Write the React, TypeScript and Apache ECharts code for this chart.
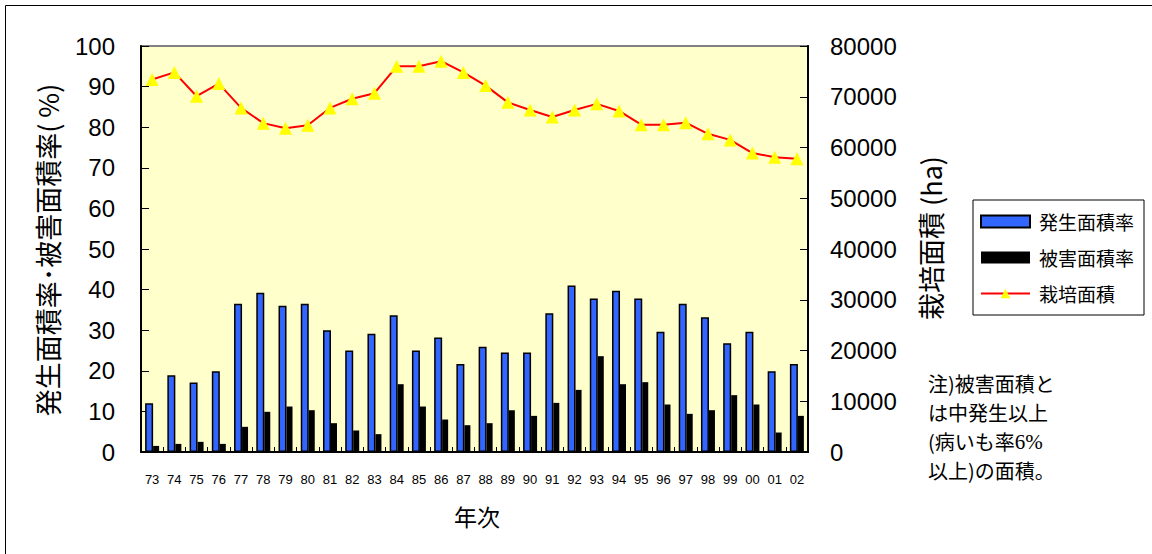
import React, { useEffect, useRef } from "react";
import * as echarts from "echarts";

const years = ["73","74","75","76","77","78","79","80","81","82","83","84","85","86","87","88","89","90","91","92","93","94","95","96","97","98","99","00","01","02"];
const occurrenceRate = [12.0,18.9,17.1,19.9,36.5,39.2,36.0,36.5,30.0,25.0,29.1,33.7,25.0,28.2,21.7,25.9,24.5,24.5,34.2,41.0,37.8,39.7,37.8,29.6,36.5,33.2,26.8,29.6,19.9,21.7];
const damageRate = [1.5,2.0,2.5,2.0,6.2,9.9,11.2,10.3,7.1,5.3,4.4,16.7,11.2,8.0,6.6,7.1,10.3,8.9,12.1,15.3,23.6,16.7,17.2,11.7,9.4,10.3,14.0,11.7,4.8,8.9];
const cultivatedArea = [73400,74800,70100,72600,67800,64800,63800,64400,67800,69600,70700,76000,76000,77000,74800,72200,68900,67400,66000,67400,68600,67200,64500,64500,64900,62700,61500,58900,58100,57800];

const seriesNames = ["発生面積率", "被害面積率", "栽培面積"];
const leftAxisTitle = "発生面積率･被害面積率( %)";
const rightAxisTitle = "栽培面積 (ha)";
const xAxisTitle = "年次";
const noteText = "注)被害面積と\nは中発生以上\n(病いも率{s|6%}\n以上)の面積。";

const SANS = "'Liberation Sans', Arial, sans-serif";
const CJK = "'Noto Sans CJK JP', 'Liberation Sans', sans-serif";

export default function App() {
  const ref = useRef<HTMLDivElement>(null);
  useEffect(() => {
    if (!ref.current) return;
    const chart = echarts.init(ref.current, undefined, { renderer: "svg" });
    const gl = 141, gt = 46, gw = 667, gh = 406;
    chart.setOption({
      animation: false,
      backgroundColor: "#ffffff",
      grid: {
        left: gl, top: gt, width: gw, height: gh,
        show: true, backgroundColor: "#FFFFCC", borderColor: "#808080", borderWidth: 2,
      },
      legend: {
        orient: "vertical",
        left: 973, top: 200,
        width: 172,
        padding: [12, 10, 12, 7],
        itemWidth: 49, itemHeight: 12, itemGap: 17,
        borderColor: "#000", borderWidth: 1,
        backgroundColor: "#fff",
        textStyle: { fontFamily: CJK, fontSize: 19, color: "#000", padding: [0, 0, 0, 4] },
        data: [
          { name: seriesNames[0], icon: "rect" },
          { name: seriesNames[1], icon: "rect" },
          { name: seriesNames[2] },
        ],
      },
      xAxis: {
        type: "category",
        data: years,
        boundaryGap: true,
        axisLine: { show: true, lineStyle: { color: "#000", width: 2 } },
        axisTick: { show: true, inside: true, length: 5, interval: 0, lineStyle: { color: "#000" } },
        axisLabel: { interval: 0, fontSize: 13, fontFamily: SANS, color: "#000", margin: 21 },
        splitLine: { show: false },
      },
      yAxis: [
        {
          type: "value", min: 0, max: 100, interval: 10, position: "left",
          axisLine: { show: true, lineStyle: { color: "#000", width: 2 } },
          axisTick: { show: true, inside: true, length: 8, lineStyle: { color: "#000" } },
          axisLabel: { fontSize: 24, fontFamily: SANS, color: "#000", margin: 26 },
          splitLine: { show: false },
        },
        {
          type: "value", min: 0, max: 80000, interval: 10000, position: "right",
          axisLine: { show: true, lineStyle: { color: "#000", width: 2 } },
          axisTick: { show: true, inside: true, length: 8, lineStyle: { color: "#000" } },
          axisLabel: { fontSize: 24, fontFamily: SANS, color: "#000", margin: 22, formatter: (v: number) => String(v) },
          splitLine: { show: false },
        },
      ],
      series: [
        {
          name: seriesNames[0], type: "bar", yAxisIndex: 0, data: occurrenceRate,
          barWidth: 8, barGap: "0%",
          itemStyle: { color: "#3366FF", borderColor: "#000", borderWidth: 1.5 },
        },
        {
          name: seriesNames[1], type: "bar", yAxisIndex: 0, data: damageRate,
          barWidth: 6, barGap: "0%",
          itemStyle: { color: "#000000", borderColor: "#000", borderWidth: 0 },
        },
        {
          name: seriesNames[2], type: "line", yAxisIndex: 1, data: cultivatedArea,
          symbol: "triangle", symbolSize: 13,
          lineStyle: { color: "#FF0000", width: 2 },
          itemStyle: { color: "#FFFF00" },
        },
      ],
      graphic: [
        {
          type: "rect", silent: true, z: -10,
          shape: { x: 5.5, y: 5.5, width: 1200, height: 700 },
          style: { fill: "none", stroke: "#000", lineWidth: 1 },
        },
        {
          type: "text", x: 47, y: 250, rotation: Math.PI / 2,
          style: { text: leftAxisTitle, fontFamily: CJK, fontSize: 27, fill: "#000", align: "center", verticalAlign: "middle" },
        },
        {
          type: "text", x: 930, y: 238, rotation: Math.PI / 2,
          style: { text: rightAxisTitle, fontFamily: CJK, fontSize: 27, fill: "#000", align: "center", verticalAlign: "middle" },
        },
        {
          type: "text", x: 477, y: 516,
          style: { text: xAxisTitle, fontFamily: CJK, fontSize: 23, fill: "#000", align: "center", verticalAlign: "middle" },
        },
        {
          type: "text", left: 928, top: 369,
          style: {
            text: noteText, fontFamily: CJK, fontSize: 20, lineHeight: 29, fill: "#000",
            rich: { s: { fontFamily: "'Liberation Serif', 'DejaVu Serif', serif", fontSize: 21, lineHeight: 29, fill: "#000" } },
          },
        },
      ],
    });
    return () => chart.dispose();
  }, []);
  return <div ref={ref} style={{ position: "fixed", left: 0, top: 0, width: 1152, height: 554 }} />;
}
